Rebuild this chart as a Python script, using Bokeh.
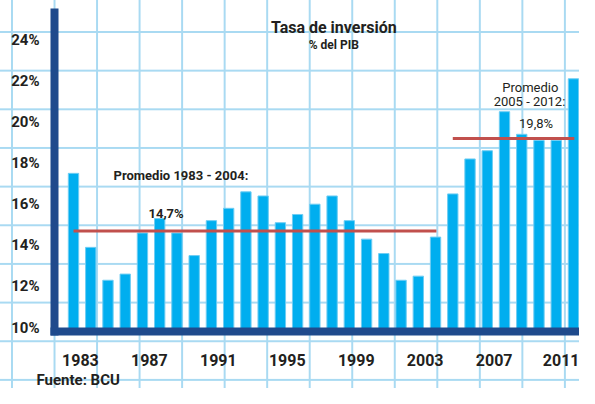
from bokeh.plotting import figure
from bokeh.models import Range1d, FixedTicker, Label, Title
from bokeh.embed import file_html
from bokeh.resources import INLINE

# ---- data ----
years = list(range(1983, 2013))
inversion = [17.5, 13.9, 12.3, 12.6, 14.6, 15.3, 14.6, 13.5, 15.2, 15.8,
             16.6, 16.4, 15.1, 15.5, 16.0, 16.4, 15.2, 14.3, 13.6, 12.3,
             12.5, 14.4, 16.5, 18.2, 18.6, 20.5, 19.4, 19.1, 19.1, 22.1]
avg_start = [1983, 2005]
avg_end = [2004, 2012]
avg_values = [14.7, 19.2]
avg_texts = ["14,7%", "19,8%"]
y_ticks = [10, 12, 14, 16, 18, 20, 22, 24]
x_tick_years = [1983, 1987, 1991, 1995, 1999, 2003, 2007, 2011]

BAR = "#00AEEF"
DARK = "#1F4A8C"
RED = "#C1504D"
TXT = "#231F20"
GRID = "#A9DAF2"
FONT = "Roboto"

p = figure(width=579, height=388, output_backend="svg", toolbar_location=None,
           x_range=Range1d(1981.898, 2012.35), y_range=Range1d(9.807, 25.325),
           min_border_left=54, min_border_right=0, min_border_top=12, min_border_bottom=54)
p.background_fill_alpha = 0
p.border_fill_alpha = 0
p.outline_line_color = None
p.grid.visible = False
p.styles = {
    "background-image": f"linear-gradient(to right, {GRID} 0px, {GRID} 2px, transparent 2px), "
                        f"linear-gradient(to bottom, {GRID} 0px, {GRID} 2px, transparent 2px)",
    "background-size": "42.54px 38.67px",
    "background-position": "11px 31px",
}

p.vbar(x=years, top=inversion, bottom=9.9, width=0.6,
       fill_color=BAR, line_color="#6FCDF3", line_width=1)

for s, e, v in zip(avg_start, avg_end, avg_values):
    p.segment(x0=[s], y0=[v], x1=[e + 0.05], y1=[v], line_color=RED, line_width=3)

# axes
for ax in (p.xaxis[0], p.yaxis[0]):
    ax.axis_line_color = DARK
    ax.axis_line_width = 8
    ax.axis_line_cap = "square"
    ax.major_tick_in = 0
    ax.major_tick_out = 0
    ax.minor_tick_in = 0
    ax.minor_tick_out = 0
    ax.major_label_text_font = FONT
    ax.major_label_text_font_style = "bold"
    ax.major_label_text_color = TXT

p.yaxis.ticker = FixedTicker(ticks=y_ticks)
p.yaxis.major_label_overrides = {t: f"{t}%" for t in y_ticks}
p.yaxis.major_label_text_font_size = "15px"
p.yaxis.major_label_standoff = 15

xt = [y + 0.4 for y in x_tick_years]
p.xaxis.ticker = FixedTicker(ticks=xt)
p.xaxis.major_label_overrides = {t: str(y) for t, y in zip(xt, x_tick_years)}
p.xaxis.major_label_text_font_size = "16px"
p.xaxis.major_label_standoff = 22

def lab(x, y, text, size, bold=False, align="center"):
    p.add_layout(Label(x=x, y=y, text=text, text_font=FONT, text_font_size=size,
                       text_font_style="bold" if bold else "normal", text_color=TXT,
                       text_align=align, text_baseline="alphabetic"))

lab(1998.1, 24.60, "Tasa de inversión", "16px", True)
lab(1998.1, 23.73, "% del PIB", "12px", True)
lab(1985.32, 17.39, "Promedio 1983 - 2004:", "13px", True, "left")
lab(1987.35, 15.57, avg_texts[0], "13px", True, "left")
lab(2009.5, 21.66, "Promedio", "13px")
lab(2009.45, 20.99, "2005 - 2012:", "13px")
lab(2009.83, 19.93, avg_texts[1], "13px")

p.add_layout(Title(text="Fuente: BCU", align="left", offset=-18, text_font=FONT,
                   text_font_size="15px", text_font_style="bold", text_color=TXT,
                   standoff=0), "below")

open("out.html", "w").write(file_html(p, INLINE))
